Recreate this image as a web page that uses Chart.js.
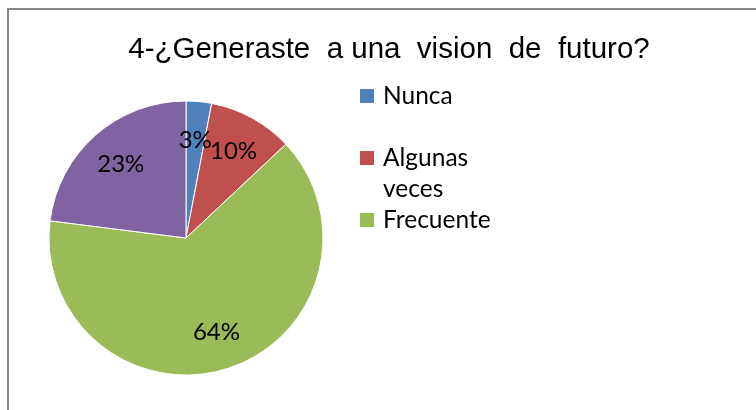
<!DOCTYPE html>
<html><head><meta charset="utf-8">
<script src="https://cdn.jsdelivr.net/npm/chart.js@4/dist/chart.umd.min.js"></script>
<style>html,body{margin:0;padding:0;background:#fff;} #wrap{position:relative;width:756px;height:410px;}</style>
</head><body><div id="wrap"><canvas id="c" width="756" height="410"></canvas></div>
<script>
const chartTitle = "4-¿Generaste  a una  vision  de  futuro?";
const categories = ["Nunca", "Algunas veces", "Frecuente", "Siempre"];
const percentages = [3, 10, 64, 23];
const sliceColors = ["#4F81BD", "#C0504D", "#9BBB59", "#8064A2"];
const legendEntriesShown = 3;

function wrapWords(ctx, text, maxW) {
  const words = text.split(' ');
  const lines = [];
  let cur = '';
  words.forEach(w => {
    const t = cur ? cur + ' ' + w : w;
    if (cur && ctx.measureText(t).width > maxW) { lines.push(cur); cur = w; } else cur = t;
  });
  if (cur) lines.push(cur);
  return lines;
}

const decor = {
  id: 'decor',
  beforeDraw(chart) {
    const ctx = chart.ctx;
    ctx.save();
    ctx.fillStyle = '#fff';
    ctx.fillRect(0, 0, chart.width, chart.height);
    ctx.strokeStyle = '#868686';
    ctx.lineWidth = 2;
    ctx.beginPath();
    ctx.moveTo(8, chart.height);
    ctx.lineTo(8, 9);
    ctx.lineTo(chart.width, 9);
    ctx.stroke();
    ctx.restore();
  },
  afterDatasetsDraw(chart) {
    const ctx = chart.ctx;
    const meta = chart.getDatasetMeta(0);
    ctx.save();
    // data labels
    ctx.font = '24px Lato';
    ctx.fillStyle = '#000';
    ctx.textAlign = 'center';
    ctx.textBaseline = 'middle';
    meta.data.forEach((arc, i) => {
      const p = arc.getProps(['startAngle', 'endAngle', 'outerRadius', 'x', 'y'], true);
      const mid = (p.startAngle + p.endAngle) / 2;
      const r = p.outerRadius * 0.72;
      ctx.fillText(percentages[i] + '%', p.x + Math.cos(mid) * r, p.y + Math.sin(mid) * r);
    });
    // title
    ctx.font = '29.5px "Liberation Sans"';
    ctx.textBaseline = 'alphabetic';
    ctx.fillText(chartTitle, 389, 58);
    // legend
    ctx.font = '24.5px Lato';
    ctx.textAlign = 'left';
    ctx.textBaseline = 'middle';
    const lineH = 31, slotH = 62;
    let top = 80.5;
    const colors = meta._dataset.backgroundColor;
    for (let i = 0; i < legendEntriesShown; i++) {
      const lines = wrapWords(ctx, chart.data.labels[i], 115);
      const cy = top + lineH / 2;
      ctx.fillStyle = colors[i];
      ctx.fillRect(360, cy - 7, 14, 14);
      ctx.fillStyle = '#000';
      lines.forEach((ln, k) => ctx.fillText(ln, 383, cy + k * lineH));
      top += slotH;
    }
    ctx.restore();
  }
};

new Chart(document.getElementById('c'), {
  type: 'pie',
  data: {
    labels: categories,
    datasets: [{
      data: percentages,
      backgroundColor: sliceColors,
      borderColor: '#ffffff',
      borderWidth: 1,
      hoverBorderWidth: 1,
      hoverOffset: 0
    }]
  },
  options: {
    responsive: false,
    animation: false,
    events: [],
    layout: { padding: { left: 48.5, top: 100.5, right: 432.5, bottom: 34.5 } },
    plugins: { legend: { display: false }, tooltip: { enabled: false }, title: { display: false } }
  },
  plugins: [decor]
});
</script>
</body></html>
